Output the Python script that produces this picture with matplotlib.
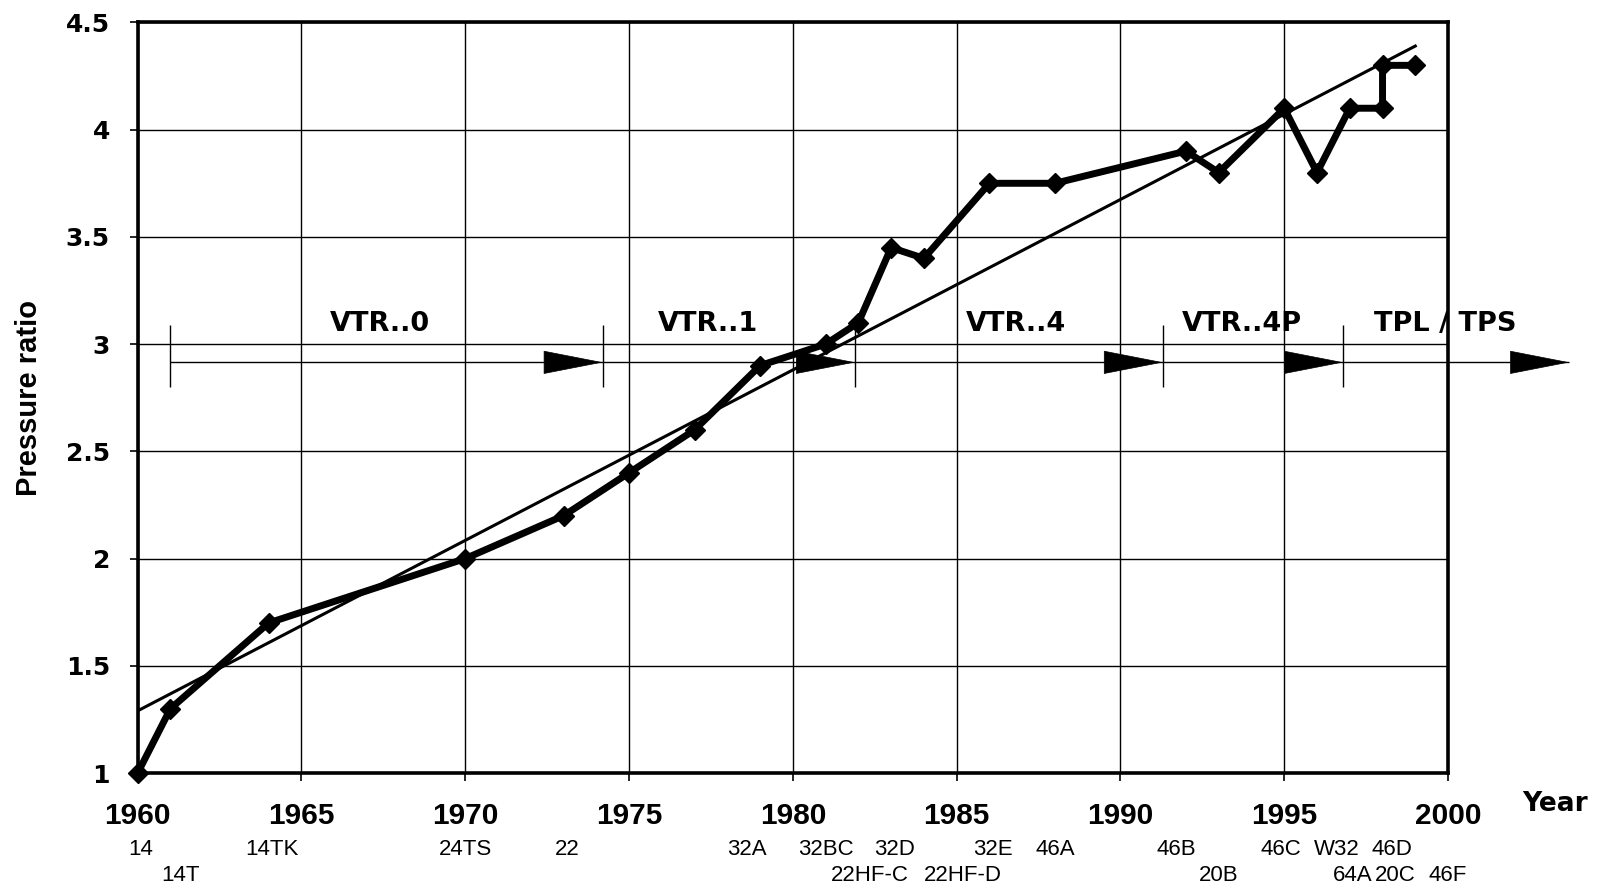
import numpy as np
import matplotlib
matplotlib.use('Agg')
import matplotlib.pyplot as plt

# Pressure ratio of the turbocharger types over the years
years = [1960, 1961, 1964, 1970, 1973, 1975, 1977, 1979, 1981, 1982, 1983, 1984,
         1986, 1988, 1992, 1993, 1995, 1996, 1997, 1998, 1998, 1999]
ratio = [1.0, 1.3, 1.7, 2.0, 2.2, 2.4, 2.6, 2.9, 3.0, 3.1, 3.45, 3.4,
         3.75, 3.75, 3.9, 3.8, 4.1, 3.8, 4.1, 4.1, 4.3, 4.3]

# straight trend line (end points)
trend_years = [1960, 1999]
trend_ratio = [1.29, 4.39]

# type names under the year axis, row 0 = upper, row 1 = lower
type_names = ['14', '14T', '14TK', '24TS', '22', '32A', '32BC', '22HF-C', '32D', '22HF-D',
              '32E', '46A', '46B', '20B', '46C', 'W32', '64A', '46D', '20C', '46F']
type_years = [1960.1, 1961.3, 1964.1, 1970.0, 1973.1, 1978.6, 1981.0, 1982.35, 1983.1, 1985.2,
              1986.1, 1988.0, 1991.7, 1993.0, 1994.9, 1996.6, 1997.1, 1998.3, 1998.4, 2000.0]
type_rows = [0, 1, 0, 0, 0, 0, 0, 1, 0, 1, 0, 0, 0, 1, 0, 0, 1, 0, 1, 1]

# product series and the years where they change
series_names = ['VTR..0', 'VTR..1', 'VTR..4', 'VTR..4P', 'TPL / TPS']
series_label_x = [1967.4, 1977.4, 1986.8, 1993.7, 1999.9]
series_bounds = [1961.0, 1974.2, 1981.9, 1991.3, 1996.8, 2003.7]

fig = plt.figure(figsize=(15.99, 8.91), dpi=100)
ax = fig.add_axes([0.0861, 0.1324, 0.8195, 0.8424])

ax.set_xlim(1960, 2000)
ax.set_ylim(1, 4.5)
ax.set_xticks(np.arange(1960, 2001, 5))
ax.set_yticks(np.arange(1, 4.51, 0.5))
ax.set_yticklabels(['%g' % v for v in np.arange(1, 4.51, 0.5)])
ax.grid(True, color='black', linewidth=1.0)
ax.set_axisbelow(True)

for s in ax.spines.values():
    s.set_linewidth(2.6)

ax.tick_params(axis='both', direction='out', length=6, width=1.2, colors='black')
ax.tick_params(axis='x', pad=15)
ax.tick_params(axis='y', pad=14)
for lab in ax.get_xticklabels():
    lab.set_fontfamily('Liberation Sans')
    lab.set_fontweight('bold')
    lab.set_fontsize(21.5)
for lab in ax.get_yticklabels():
    lab.set_fontfamily('DejaVu Sans')
    lab.set_fontweight('bold')
    lab.set_fontsize(18)

# trend + data
ax.plot(trend_years, trend_ratio, color='black', linewidth=2.2, zorder=3)
ax.plot(years, ratio, color='black', linewidth=5, marker='D', markersize=10,
        zorder=4, clip_on=False)

# series arrows
arrow_y = 2.915
ax.hlines(arrow_y, series_bounds[0], series_bounds[-1], color='black',
          linewidth=1.0, clip_on=False, zorder=2)
ax.vlines(series_bounds[:-1], 2.80, 3.09, color='black', linewidth=1.0, zorder=2)
for x0, x1 in zip(series_bounds[:-1], series_bounds[1:]):
    ax.annotate('', xy=(x1, arrow_y), xytext=(x1 - 1.8, arrow_y),
                arrowprops=dict(arrowstyle='-|>,head_length=4.1,head_width=0.8',
                                mutation_scale=10, color='black', lw=0.5,
                                shrinkA=0, shrinkB=0),
                annotation_clip=False)
for name, x in zip(series_names, series_label_x):
    ax.text(x, 3.095, name, ha='center', va='center', fontsize=19.5,
            fontweight='bold', fontfamily='DejaVu Sans', zorder=5)

# type names below the axis
row_y = [-0.102, -0.136]
trans = ax.get_xaxis_transform()
for name, x, r in zip(type_names, type_years, type_rows):
    ax.text(x, row_y[r], name, transform=trans, ha='center', va='center',
            fontsize=16, fontfamily='Liberation Sans', clip_on=False)

ax.text(1.082, -0.041, 'Year', transform=ax.transAxes, ha='center', va='center',
        fontsize=19, fontweight='bold', fontfamily='DejaVu Sans')
ax.set_ylabel('Pressure ratio', fontsize=21, fontweight='bold', fontfamily='Liberation Sans')
ax.yaxis.set_label_coords(-0.0724, 0.5)

fig.savefig('out.png', dpi=100, facecolor='white')
